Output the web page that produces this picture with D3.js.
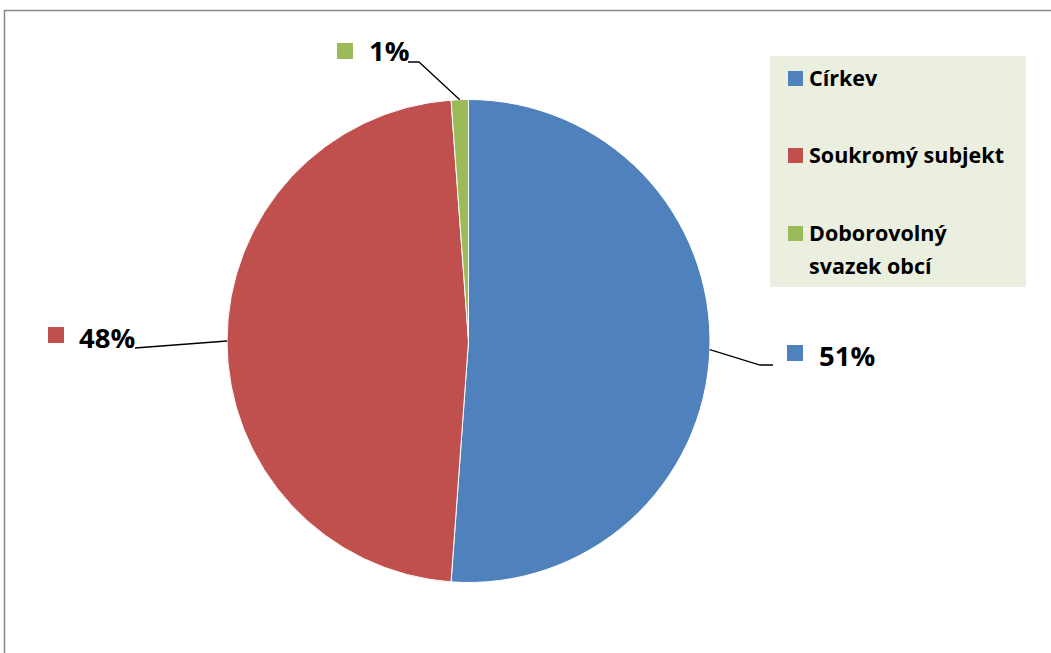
<!DOCTYPE html>
<html>
<head>
<meta charset="utf-8">
<script src="https://cdn.jsdelivr.net/npm/d3@7"></script>
<style>
html,body{margin:0;padding:0;background:#fff;}
svg{display:block;}
text{font-family:"Open Sans",Lato,sans-serif;font-weight:bold;fill:#000;}
</style>
</head>
<body>
<svg id="chart" width="1051" height="653"></svg>
<script>
const categories = ["Církev", "Soukromý subjekt", "Doborovolný svazek obcí"];
const legendLines = [["Církev"], ["Soukromý subjekt"], ["Doborovolný", "svazek obcí"]];
const values = [89, 83, 2];
const colors = ["#4F81BD", "#C0504D", "#9BBB59"];

const svg = d3.select("#chart");
// chart border
svg.append("path").attr("d", "M4.5,653 L4.5,10.5 L1051,10.5")
  .attr("fill", "none").attr("stroke", "#898989").attr("stroke-width", 1.5);

const cx = 468.5, cy = 341, r = 241.5;
const total = d3.sum(values);
const pie = d3.pie().sort(null).value(d => d)(values);
const arc = d3.arc().innerRadius(0).outerRadius(r);
const g = svg.append("g").attr("transform", `translate(${cx},${cy})`);
g.selectAll("path.slice").data(pie).join("path")
  .attr("class", "slice")
  .attr("d", arc)
  .attr("fill", (d, i) => colors[i])
  .attr("stroke", "#fff").attr("stroke-width", 1);

// data labels (layout positions)
const labelLayout = [
  {sq: [787, 345], tx: 819, ty: 366, line: [[710, 350], [760, 365], [773, 365]]},
  {sq: [48, 327], tx: 79, ty: 348, line: [[227, 341], [135, 348]]},
  {sq: [337, 43], tx: 369, ty: 61, line: [[460, 99], [419, 62], [408, 62]]}
];
pie.forEach((d, i) => {
  const L = labelLayout[i];
  const ang = (d.startAngle + d.endAngle) / 2;
  const p0 = [cx + r * Math.sin(ang), cy - r * Math.cos(ang)];
  const pts = [p0].concat(L.line.slice(1));
  svg.append("path").attr("d", d3.line()(pts))
    .attr("fill", "none").attr("stroke", "#000").attr("stroke-width", 1.3);
  svg.append("rect").attr("x", L.sq[0]).attr("y", L.sq[1]).attr("width", 16).attr("height", 16)
    .attr("fill", colors[i]);
  svg.append("text").attr("x", L.tx).attr("y", L.ty).attr("font-size", 27.5)
    .text(Math.round(d.data / total * 100) + "%");
});

// legend
svg.append("rect").attr("x", 770).attr("y", 56).attr("width", 256).attr("height", 231)
  .attr("fill", "#EBEFDF");
const legY = [71, 148, 226];
categories.forEach((c, i) => {
  svg.append("rect").attr("x", 788).attr("y", legY[i]).attr("width", 15).attr("height", 15)
    .attr("fill", colors[i]);
  const t = svg.append("text").attr("x", 809).attr("y", legY[i] + 15).attr("font-size", 21.5);
  legendLines[i].forEach((ln, j) => {
    t.append("tspan").attr("x", 809).attr("dy", j === 0 ? 0 : 33).text(ln);
  });
});
</script>
</body>
</html>
